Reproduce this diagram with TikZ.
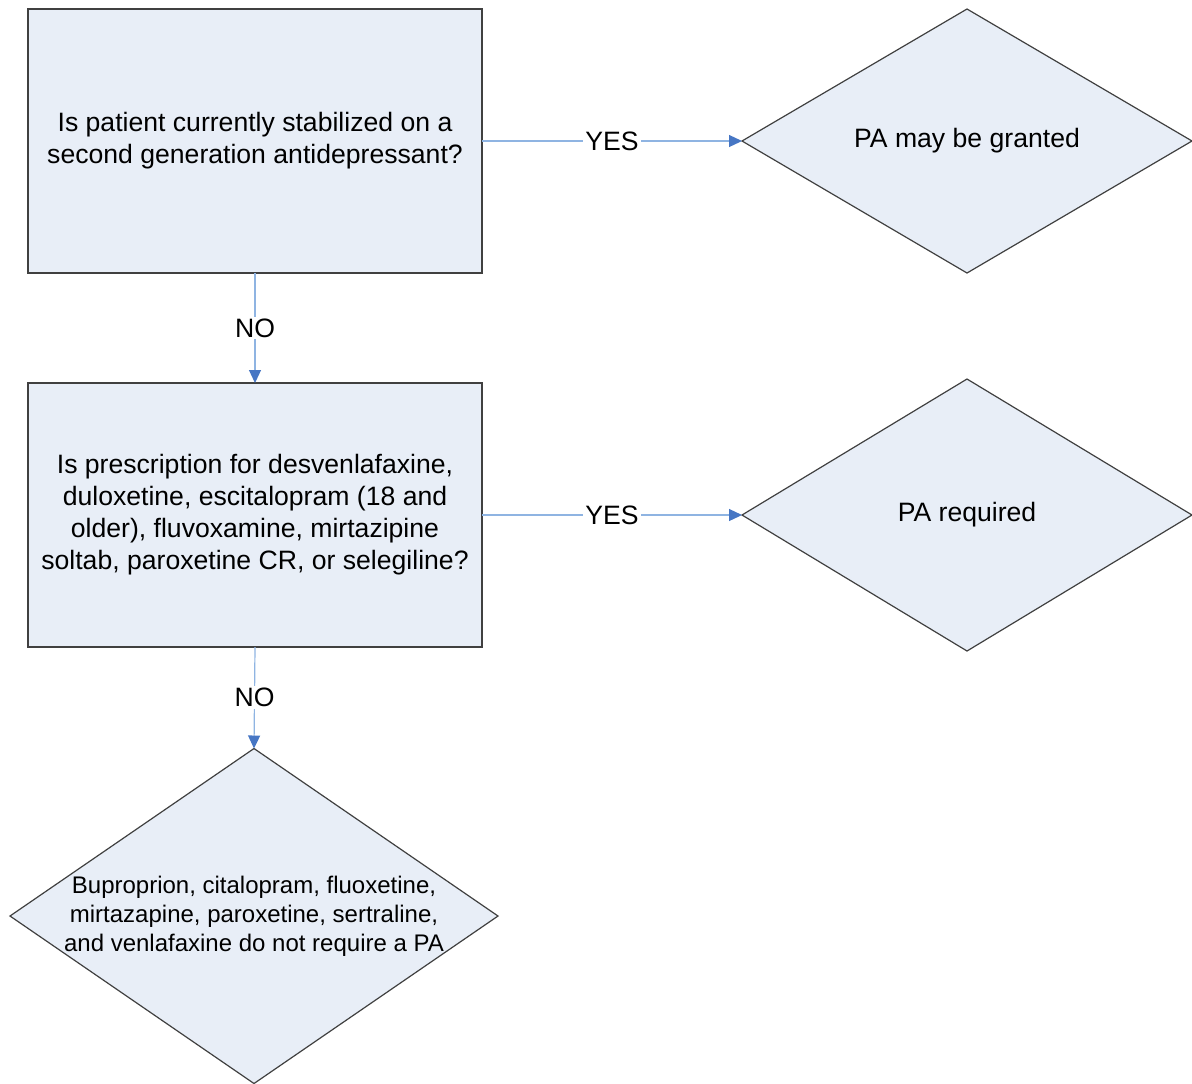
\documentclass[tikz,border=0pt]{standalone}
\usepackage{fontspec}
\setmainfont{Liberation Sans}
\usetikzlibrary{shapes.geometric,arrows.meta}
\definecolor{boxfill}{RGB}{232,238,247}
\definecolor{linkline}{RGB}{143,180,226}
\definecolor{linktip}{RGB}{70,118,196}
\begin{document}
\begin{tikzpicture}[x=.5pt,y=-.5pt,
    question/.style={draw=black!75,line width=.6pt,fill=boxfill,rectangle,
      minimum width=227pt,minimum height=132pt,inner sep=0pt,outer sep=0pt,
      align=center,font=\fontsize{13.3}{16}\selectfont},
    answer/.style={draw=black!75,line width=.6pt,fill=boxfill,diamond,
      inner sep=0pt,outer sep=0pt},
    anstext/.style={align=center,font=\fontsize{13.3}{16}\selectfont},
    link/.style={draw=linkline,line width=.6pt,
      -{Triangle[length=6.5pt,width=6pt,color=linktip]}},
    choice/.style={fill=white,inner sep=1pt,font=\fontsize{13.3}{16}\selectfont}]
  \useasboundingbox (0,0) rectangle (1192,1083);
  % questions
  \node[question] (stable) at (255,141)
    {Is patient currently stabilized on a\\second generation antidepressant?};
  \node[question] (drug) at (255,515)
    {Is prescription for desvenlafaxine,\\duloxetine, escitalopram (18 and\\older), fluvoxamine, mirtazipine\\soltab, paroxetine CR, or selegiline?};
  % outcomes
  \node[answer,minimum width=225pt,minimum height=132pt] (granted) at (967,141) {};
  \node[anstext] at (granted.center) {PA may be granted};
  \node[answer,minimum width=225pt,minimum height=136pt] (required) at (967,515) {};
  \node[anstext] at (required.center) {PA required};
  \node[answer,minimum width=244pt,minimum height=167.5pt] (nopa) at (254,916) {};
  \node[anstext,font=\fontsize{12}{14.5}\selectfont] at (nopa.center)
    {Buproprion, citalopram, fluoxetine,\\mirtazapine, paroxetine, sertraline,\\and venlafaxine do not require a PA};
  % links
  \draw[link] (stable.east) -- node[choice]{YES} (granted.west);
  \draw[link] (stable.south) -- node[choice]{NO} (drug.north);
  \draw[link] (drug.east) -- node[choice]{YES} (required.west);
  \draw[link] (drug.south) -- node[choice]{NO} (nopa.north);
\end{tikzpicture}
\end{document}
